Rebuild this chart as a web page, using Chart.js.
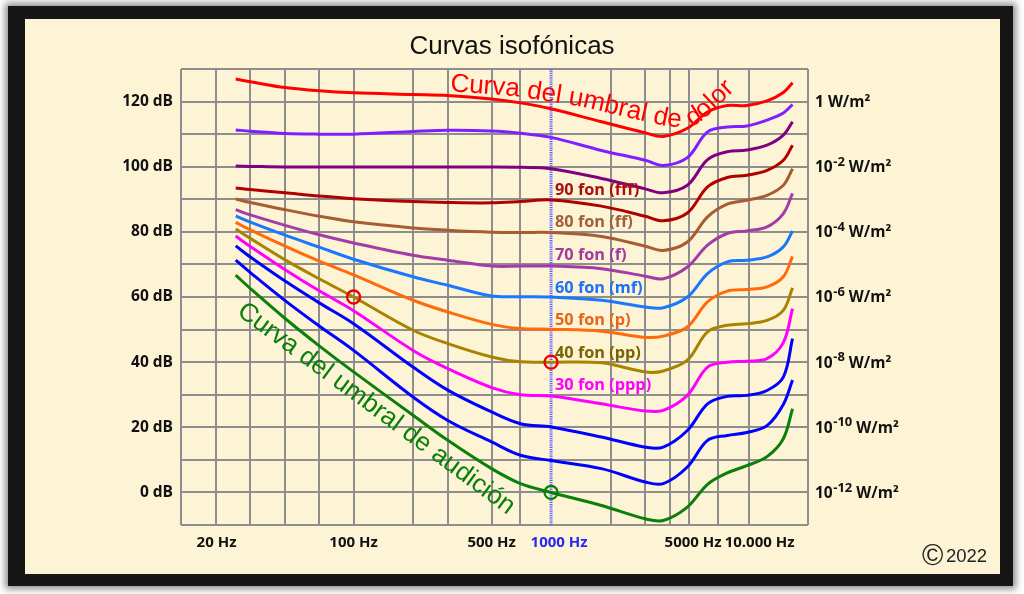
<!DOCTYPE html>
<html>
<head>
<meta charset="utf-8">
<script src="https://cdn.jsdelivr.net/npm/chart.js@4/dist/chart.umd.min.js"></script>
<style>
html,body{margin:0;padding:0;background:#ffffff;width:1024px;height:594px;overflow:hidden}
#frame{position:absolute;left:8px;top:6px;width:1005px;height:580px;background:#161616;box-shadow:0 0 7px 3px rgba(0,0,0,0.45)}
#paper{position:absolute;left:17px;top:13px;width:975px;height:555px;background:#fdf4d6}
#wrap{position:absolute;left:0;top:0;width:1024px;height:594px}
</style>
</head>
<body>
<div id="frame"><div id="paper"></div></div>
<div id="wrap"><canvas id="c"></canvas></div>
<script>
// ---------- data ----------
const frequencies = [25.3, 30, 45, 67, 100, 200, 300, 500, 700, 1000, 1800, 3000, 3700, 4900, 6200, 7800, 9800, 12400, 15000, 16700];

const painThreshold = [126.9, 126.1, 124.3, 123.3, 122.7, 122.2, 121.9, 120.8, 119.6, 117.8, 113.8, 110.4, 109.3, 111.8, 116.8, 118.8, 118.8, 120.2, 122.8, 125.8];
const phon110 = [111.3, 110.9, 110.2, 110.0, 110.0, 110.8, 111.2, 111.0, 110.3, 109.0, 105.0, 102.0, 100.4, 102.8, 110.7, 112.2, 112.5, 114.3, 116.5, 119.1];
const phon100 = [100.2, 100.1, 99.9, 99.9, 99.9, 99.9, 99.9, 99.9, 99.8, 99.4, 96.4, 93.2, 92.0, 94.3, 102.2, 104.6, 105.1, 106.6, 109.7, 113.8];
const phon90 = [93.5, 93.0, 92.0, 91.0, 90.2, 89.3, 89.0, 88.9, 89.3, 89.8, 87.9, 84.8, 83.4, 85.8, 93.8, 96.7, 97.4, 98.9, 102.0, 106.6];
const phon80 = [90.1, 89.0, 86.8, 84.8, 83.1, 81.2, 80.5, 79.9, 79.8, 79.8, 78.6, 75.6, 74.3, 76.9, 84.6, 88.5, 89.7, 91.2, 94.3, 99.4];
const phon70 = [86.8, 85.2, 82.0, 79.1, 76.6, 72.8, 71.3, 69.5, 69.5, 69.5, 68.7, 66.4, 65.6, 69.2, 75.9, 79.5, 80.3, 81.5, 85.6, 91.8];
const phon60 = [84.9, 83.0, 79.0, 75.3, 71.6, 66.2, 63.6, 60.3, 60.1, 60.0, 59.0, 56.9, 56.7, 60.0, 67.2, 70.8, 71.3, 72.3, 75.4, 80.3];
const phon50 = [82.9, 80.6, 75.6, 71.0, 66.8, 59.0, 55.4, 51.6, 50.3, 50.1, 49.5, 47.6, 48.0, 50.8, 58.5, 61.8, 62.3, 63.1, 66.2, 72.5];
const phon40 = [80.9, 78.0, 71.4, 65.6, 60.0, 49.8, 45.7, 41.6, 40.1, 40.0, 39.8, 37.0, 37.3, 40.6, 49.3, 51.3, 51.8, 52.8, 55.9, 62.8];
const phon30 = [78.7, 75.5, 68.4, 61.9, 55.8, 43.6, 38.0, 32.2, 30.0, 29.6, 27.2, 25.0, 25.2, 29.8, 38.5, 40.0, 40.3, 41.1, 46.0, 56.4];
const phon20 = [75.7, 72.3, 64.9, 58.2, 51.8, 38.5, 31.4, 24.7, 21.1, 20.1, 17.0, 13.9, 13.9, 19.0, 27.2, 29.5, 29.8, 31.3, 35.4, 47.2];
const phon10 = [71.3, 67.5, 58.9, 51.1, 43.6, 29.3, 22.1, 15.5, 11.4, 9.8, 7.3, 3.2, 2.7, 7.8, 16.0, 17.5, 18.4, 20.5, 27.0, 34.5];
const hearingThreshold = [66.7, 62.6, 53.4, 45.0, 37.0, 23.7, 16.0, 7.3, 2.7, 0.0, -4.0, -8.1, -8.6, -4.5, 2.5, 6.0, 8.2, 11.0, 16.5, 25.7];

const curveSeries = [painThreshold, phon110, phon100, phon90, phon80, phon70, phon60, phon50, phon40, phon30, phon20, phon10, hearingThreshold];
const curveColors = ['#ff0000', '#7f1fff', '#800080', '#b00000', '#a65d32', '#a43ca8', '#1a78ff', '#ff6a0a', '#a88300', '#ff00ff', '#0000ff', '#0000ff', '#0a800a'];

// grid positions on the frequency axis, and the labelled frequencies
const xGridFreqs = [13.37, 20, 29.9, 44.7, 66.9, 100, 200, 300, 500, 700, 1000, 2000, 3000, 4000, 5000, 7000, 10000, 20000];
const xLabelFreqs = [20, 100, 500, 1000, 5000, 10000];
const xLabelTexts = ['20 Hz', '100 Hz', '500 Hz', '1000 Hz', '5000 Hz', '10.000 Hz'];
const xLabelShift = [1, 0, 0, 8, 4, 11];
const yTickLabels = [0, 20, 40, 60, 80, 100, 120];
const intensityExponents = ['-12', '-10', '-8', '-6', '-4', '-2', ''];   // W/m² labels at 0..120 dB

const fonLabels = ['90 fon (fff)', '80 fon (ff)', '70 fon (f)', '60 fon (mf)', '50 fon (p)', '40 fon (pp)', '30 fon (ppp)'];
const fonLevels = [90, 80, 70, 60, 50, 40, 30];
const fonColors = ['#a81010', '#a0603a', '#a03a9e', '#1a70ff', '#e8641c', '#7a6300', '#ff00ff'];

const redCircles = [{x: 100, y: 60}, {x: 1000, y: 40}];
const greenCircles = [{x: 1000, y: 0}];
const referenceLine = [{x: 1000, y: -10}, {x: 1000, y: 130}];

// text path for "Curva del umbral de dolor" (frequency, dB)
const painTextPath = [[307.7, 123.2], [664, 121.7], [1400, 118.6], [3097, 113.7], [4200, 112.0], [5400, 112.2], [9600, 126.5]];
const hearingTextAnchor = {x: 130, y: 25.7, angle: 36.5};

// ---------- chart ----------
const GRID = '#8e8e8e';
const BOLD = '"Open Sans", "Noto Sans", sans-serif';

const datasets = [];
curveSeries.forEach((vals, i) => {
  datasets.push({
    type: 'line',
    data: frequencies.map((f, k) => ({x: f, y: vals[k]})),
    borderColor: curveColors[i],
    borderWidth: 3,
    pointRadius: 0,
    fill: false,
    tension: 0.35,
    order: 5
  });
});
datasets.push({
  type: 'line', data: referenceLine, borderColor: '#5c5cff', borderWidth: 3,
  borderDash: [1.2, 1], pointRadius: 0, fill: false, order: 20
});
datasets.push({
  type: 'line', data: redCircles, showLine: false, pointRadius: 6.5, pointBorderWidth: 2.3,
  pointBorderColor: '#ee0000', pointBackgroundColor: 'rgba(0,0,0,0)', order: 1
});
datasets.push({
  type: 'line', data: greenCircles, showLine: false, pointRadius: 6.5, pointBorderWidth: 2.3,
  pointBorderColor: '#0a800a', pointBackgroundColor: 'rgba(0,0,0,0)', order: 1
});

function textOnPath(ctx, text, pts) {
  const seg = [];
  for (let i = 1; i < pts.length; i++) seg.push(Math.hypot(pts[i][0] - pts[i-1][0], pts[i][1] - pts[i-1][1]));
  function at(s) {
    for (let i = 0; i < seg.length; i++) {
      if (s <= seg[i] || i === seg.length - 1) {
        const t = s / seg[i];
        return [pts[i][0] + (pts[i+1][0] - pts[i][0]) * t, pts[i][1] + (pts[i+1][1] - pts[i][1]) * t];
      }
      s -= seg[i];
    }
  }
  const lastSpace = text.lastIndexOf(' ');
  let s = 0;
  [...text].forEach((ch, idx) => {
    let w = ctx.measureText(ch).width;
    if (idx === lastSpace) w += 4;
    const a = at(s), b = at(s + w);
    const ang = Math.atan2(b[1] - a[1], b[0] - a[0]);
    ctx.save();
    ctx.translate(a[0], a[1]);
    ctx.rotate(ang);
    ctx.fillText(ch, 0, 0);
    ctx.restore();
    s += w;
  });
}

const annotations = {
  id: 'annotations',
  afterDatasetsDraw(chart) {
    const ctx = chart.ctx, xs = chart.scales.x, ys = chart.scales.y;
    ctx.save();
    // title
    ctx.fillStyle = '#111';
    ctx.font = '26px "Liberation Sans", Arial, sans-serif';
    ctx.textAlign = 'center';
    ctx.textBaseline = 'alphabetic';
    ctx.fillText('Curvas isofónicas', 512, 54);

    // frequency labels under the axis
    ctx.font = 'bold 15px ' + BOLD;
    ctx.textBaseline = 'middle';
    xLabelFreqs.forEach((f, i) => {
      ctx.fillStyle = f === 1000 ? '#2828f0' : '#111';
      ctx.fillText(xLabelTexts[i], xs.getPixelForValue(f) + xLabelShift[i], chart.chartArea.bottom + 18);
    });

    // fon labels at 1000 Hz
    ctx.font = 'bold 16.3px ' + BOLD;
    ctx.textAlign = 'left';
    fonLabels.forEach((t, i) => {
      ctx.fillStyle = fonColors[i];
      ctx.fillText(t, xs.getPixelForValue(1000) + 4, ys.getPixelForValue(fonLevels[i] + 2.8));
    });

    // right-hand intensity labels
    yTickLabels.forEach((db, i) => {
      const y = ys.getPixelForValue(db) + 1;
      let x = chart.chartArea.right + 7;
      const exp = intensityExponents[i];
      ctx.fillStyle = '#111';
      ctx.font = 'bold 15.5px ' + BOLD;
      if (exp === '') {
        ctx.fillText('1 W/m²', x, y);
      } else {
        ctx.fillText('10', x, y);
        x += ctx.measureText('10').width + 0.5;
        ctx.font = 'bold 13px ' + BOLD;
        ctx.fillText(exp, x, y - 5.5);
        x += ctx.measureText(exp).width;
        ctx.font = 'bold 15.5px ' + BOLD;
        ctx.fillText(' W/m²', x, y);
      }
    });

    // curved label along the pain threshold
    ctx.fillStyle = '#ff0000';
    ctx.font = '26px "Liberation Sans", Arial, sans-serif';
    ctx.textBaseline = 'alphabetic';
    textOnPath(ctx, 'Curva del umbral de dolor',
      painTextPath.map(p => [xs.getPixelForValue(p[0]), ys.getPixelForValue(p[1])]));

    // rotated label along the hearing threshold
    ctx.save();
    ctx.fillStyle = '#0a800a';
    ctx.font = '26px "Liberation Sans", Arial, sans-serif';
    ctx.translate(xs.getPixelForValue(hearingTextAnchor.x), ys.getPixelForValue(hearingTextAnchor.y));
    ctx.rotate(hearingTextAnchor.angle * Math.PI / 180);
    ctx.textAlign = 'center';
    ctx.textBaseline = 'middle';
    ctx.fillText('Curva del umbral de audición', 0, 0);
    ctx.restore();

    // copyright
    ctx.fillStyle = '#222';
    ctx.textAlign = 'left';
    ctx.textBaseline = 'alphabetic';
    ctx.font = '29px "Liberation Sans", Arial, sans-serif';
    ctx.fillText('©', 922, 565);
    ctx.font = '18.5px "Liberation Sans", Arial, sans-serif';
    ctx.fillText('2022', 946, 562);
    ctx.restore();
  }
};

new Chart(document.getElementById('c'), {
  data: {datasets},
  options: {
    responsive: true,
    maintainAspectRatio: false,
    devicePixelRatio: 1,
    animation: false,
    events: [],
    layout: {padding: {top: 69, right: 216, bottom: 0, left: 0}},
    plugins: {legend: {display: false}, tooltip: {enabled: false}, title: {display: false}},
    scales: {
      x: {
        type: 'logarithmic',
        min: 13.37,
        max: 20000,
        afterBuildTicks: s => { s.ticks = xGridFreqs.map(v => ({value: v})); },
        afterFit: s => { s.height = 69; },
        ticks: {display: false},
        grid: {
          color: c => (c.tick && c.tick.value === 1000) ? 'rgba(0,0,0,0)' : GRID,
          lineWidth: 2,
          drawTicks: false
        },
        border: {display: false}
      },
      y: {
        type: 'linear',
        min: -10,
        max: 130,
        afterFit: s => { s.width = 181; },
        ticks: {
          stepSize: 10,
          padding: 8,
          callback: v => yTickLabels.includes(v) ? v + ' dB' : '',
          color: '#111',
          font: {family: BOLD, weight: 'bold', size: 15.5}
        },
        grid: {color: GRID, lineWidth: 2, drawTicks: false},
        border: {display: false}
      }
    }
  },
  plugins: [annotations]
});
</script>
</body>
</html>
